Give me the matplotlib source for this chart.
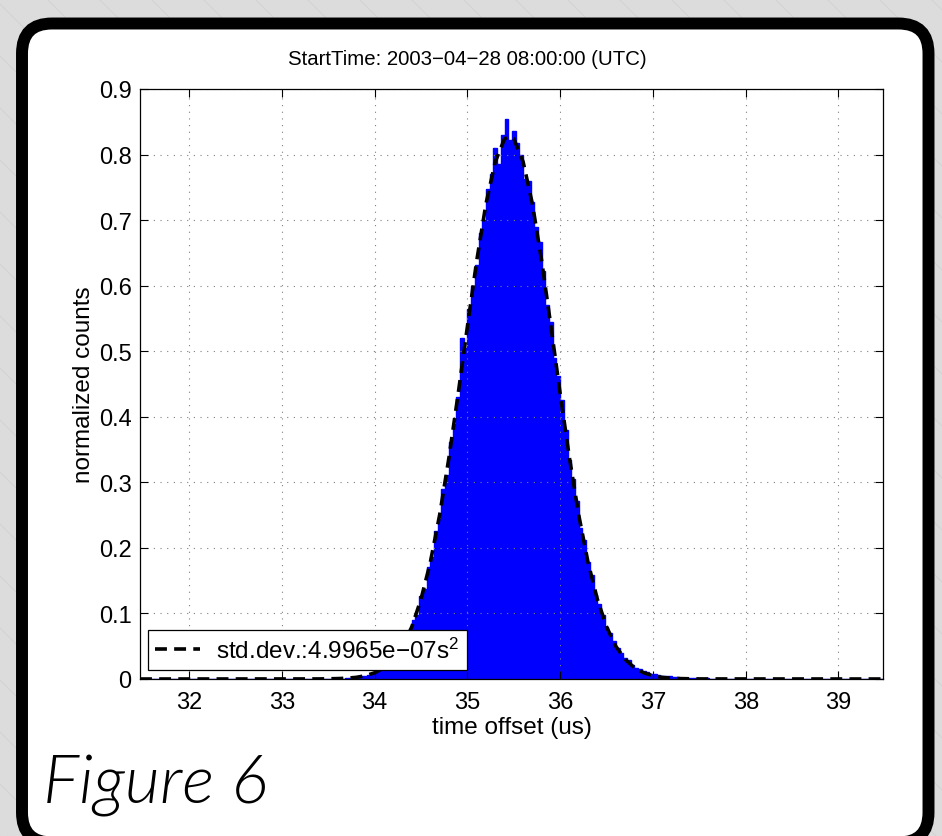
import numpy as np
import matplotlib
matplotlib.use("Agg")
import matplotlib.pyplot as plt
from matplotlib.patches import FancyBboxPatch

# histogram of time offsets (bin width 0.04 us)
bin_start = 33.60
bin_width = 0.04
counts = [
    0.001, 0.000, 0.002, 0.001, 0.003, 0.002, 0.004, 0.005, 0.006, 0.009,
    0.010, 0.014, 0.016, 0.023, 0.026, 0.031, 0.042, 0.047, 0.061, 0.069,
    0.090, 0.098, 0.126, 0.138, 0.171, 0.186, 0.226, 0.244, 0.290, 0.311,
    0.362, 0.389, 0.430, 0.520, 0.505, 0.565, 0.600, 0.632, 0.680, 0.700,
    0.748, 0.770, 0.810, 0.785, 0.830, 0.854, 0.822, 0.836, 0.818, 0.800,
    0.762, 0.760, 0.728, 0.690, 0.666, 0.622, 0.570, 0.545, 0.490, 0.462,
    0.425, 0.380, 0.334, 0.305, 0.272, 0.230, 0.212, 0.178, 0.158, 0.128,
    0.115, 0.098, 0.080, 0.070, 0.058, 0.047, 0.040, 0.032, 0.029, 0.022,
    0.017, 0.015, 0.012, 0.010, 0.008, 0.007, 0.006, 0.005, 0.004, 0.004,
    0.003, 0.003, 0.002, 0.002, 0.001, 0.002, 0.001, 0.001, 0.000, 0.001,
]

# gaussian fit curve
fit_x = [31.47, 33.40, 33.50, 33.60, 33.70, 33.80, 33.90, 34.00, 34.10, 34.20,
         34.30, 34.40, 34.50, 34.60, 34.70, 34.80, 34.90, 35.00, 35.10, 35.20,
         35.30, 35.40, 35.45, 35.50, 35.60, 35.70, 35.80, 35.90, 36.00, 36.10,
         36.20, 36.30, 36.40, 36.50, 36.60, 36.70, 36.80, 36.90, 37.00, 37.10,
         37.20, 37.30, 37.40, 37.50, 39.48]
fit_y = [0.0, 0.0001, 0.0003, 0.0006, 0.0012, 0.0025, 0.0050, 0.0095, 0.0172, 0.0299,
         0.0498, 0.0795, 0.122, 0.178, 0.250, 0.337, 0.435, 0.538, 0.638, 0.725,
         0.789, 0.824, 0.828, 0.824, 0.789, 0.725, 0.638, 0.538, 0.435, 0.337,
         0.250, 0.178, 0.122, 0.0795, 0.0498, 0.0299, 0.0172, 0.0095, 0.0050, 0.0025,
         0.0012, 0.0006, 0.0003, 0.0001, 0.0]

x_min, x_max = 31.47, 39.48
x_ticks = [32, 33, 34, 35, 36, 37, 38, 39]
y_ticks = [0, 0.1, 0.2, 0.3, 0.4, 0.5, 0.6, 0.7, 0.8, 0.9]
y_tick_labels = ["0", "0.1", "0.2", "0.3", "0.4", "0.5", "0.6", "0.7", "0.8", "0.9"]

title = "StartTime: 2003\u221204\u221228 08:00:00 (UTC)"
legend_label = "std.dev.:4.9965e\u221207s$^2$"

plt.rcParams['font.family'] = ['Liberation Sans', 'DejaVu Sans']
plt.rcParams['mathtext.fontset'] = 'custom'
plt.rcParams['mathtext.rm'] = 'Liberation Sans'
plt.rcParams['mathtext.it'] = 'Liberation Sans'

W, H = 942, 837
fig = plt.figure(figsize=(W / 100, H / 100), dpi=100)
fig.patch.set_facecolor('#dcdcdc')

# background: faint diagonal stripes and rounded black frame, in pixel coords
bg = fig.add_axes([0, 0, 1, 1])
bg.set_xlim(0, W)
bg.set_ylim(H, 0)
bg.axis('off')
for s in range(-H, W + H, 52):
    bg.plot([s, s + H], [0, H], color='#d3d3d3', lw=0.8, zorder=0)
frame = FancyBboxPatch((22, 24.5), 906.5, 819, boxstyle="round,pad=0,rounding_size=30",
                       facecolor='white', edgecolor='black', lw=8.6, zorder=1)
bg.add_patch(frame)

ax = fig.add_axes([140 / W, 1 - 680 / H, (883 - 140) / W, (680 - 90) / H])
ax.set_zorder(2)

edges = np.concatenate([[x_min], bin_start + bin_width * np.arange(len(counts) + 1), [x_max]])
values = np.concatenate([[0.0], counts, [0.0]])
ax.stairs(values, edges, fill=True, color='#0000ff', zorder=2)
ax.stairs(values, edges, color='#0000ff', lw=1.0, zorder=2)

line, = ax.plot(fit_x, fit_y, color='black', lw=2.6, linestyle='--', dashes=(3.3, 2.0),
                zorder=3, label=legend_label)

ax.set_xlim(x_min, x_max)
ax.set_ylim(0, 0.9)
ax.set_xticks(x_ticks)
ax.set_yticks(y_ticks)
ax.set_yticklabels(y_tick_labels)
ax.tick_params(direction='in', top=True, right=True, length=6, width=0.8, labelsize=17)
ax.tick_params(axis='x', pad=9)
ax.tick_params(axis='y', pad=6)
ax.grid(True, color='#808080', lw=0.8, linestyle=(0, (1, 5)))
ax.set_axisbelow(False)
for sp in ax.spines.values():
    sp.set_linewidth(0.9)
    sp.set_zorder(4)

ax.set_title(title, fontsize=14.7, x=(467 - 140) / 743, pad=18)
ax.set_xlabel("time offset (us)", fontsize=17.5, labelpad=2)
ax.set_ylabel("normalized counts", fontsize=17.5, labelpad=3)

leg = ax.legend(loc='lower left', bbox_to_anchor=(0.0108, 0.0153), borderaxespad=0,
                fontsize=17.5, handlelength=1.85, fancybox=False, framealpha=1,
                edgecolor='black', borderpad=0.3, handletextpad=0.65)
leg.get_frame().set_linewidth(0.9)
leg.set_zorder(5)

fig.text(43 / W, 1 - 803 / H, "Figure 6", fontsize=49, family=['Lato', 'DejaVu Sans'],
         style='italic', weight=300, ha='left', va='baseline')

fig.savefig("out.png", dpi=100, facecolor=fig.get_facecolor())
